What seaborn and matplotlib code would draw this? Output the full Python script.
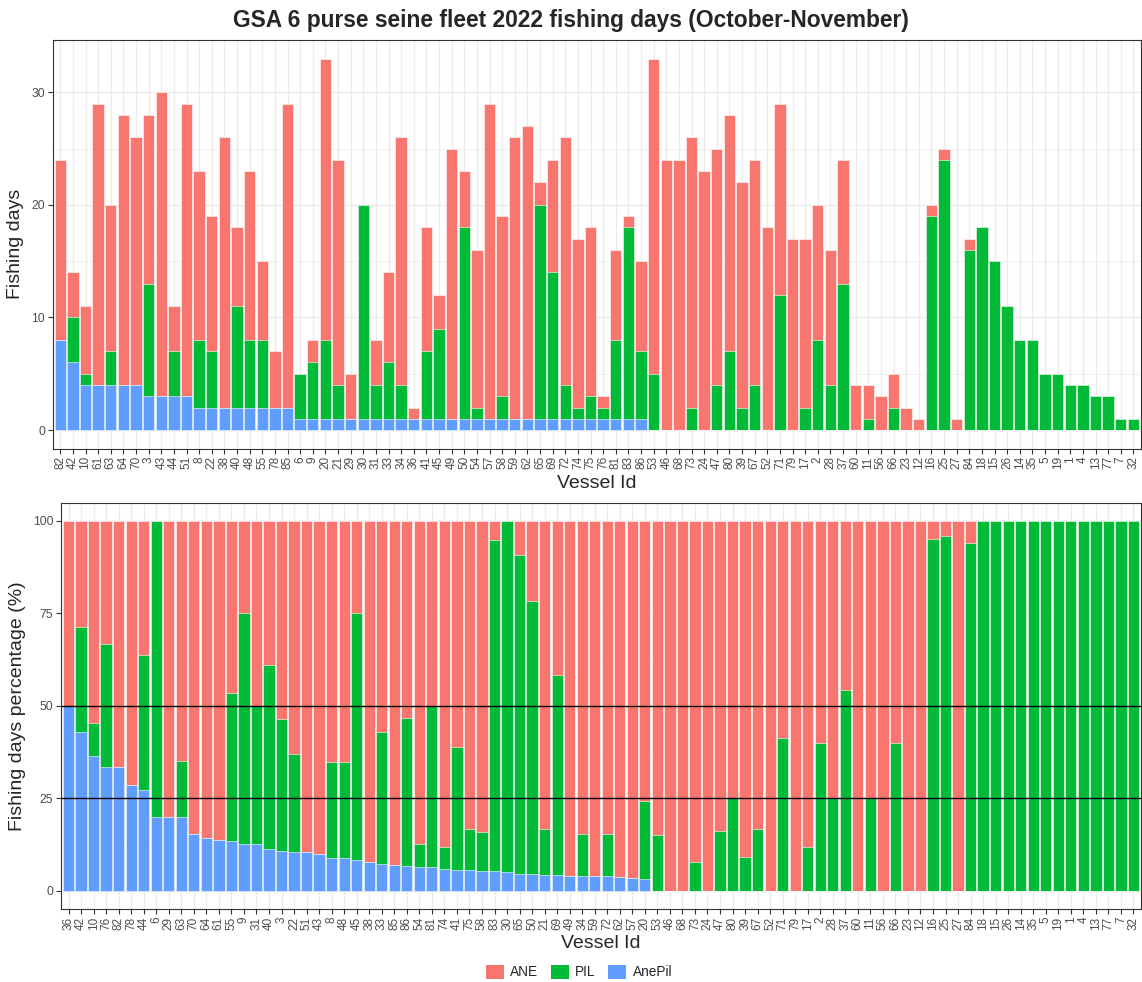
import matplotlib
matplotlib.use('Agg')
import matplotlib.pyplot as plt
from matplotlib.patches import Patch
import seaborn as sns
import pandas as pd
import numpy as np

# ---------------- data ----------------
vessels = ['82','42','10','61','63','64','70','3','43','44','51','8','22','38','40','48','55','78','85',
           '6','9','20','21','29','30','31','33','34','36','41','45','49','50','54','57','58','59','62',
           '65','69','72','74','75','76','81','83','86','53','46','68','73','24','47','80','39','67','52',
           '71','79','17','2','28','37','60','11','56','66','23','12','16','25','27','84','18','15','26',
           '14','35','5','19','1','4','13','77','7','32']

anepil = [8, 6, 4, 4, 4, 4, 4, 3, 3, 3, 3, 2, 2, 2, 2, 2, 2, 2, 2,
          1, 1, 1, 1, 1, 1, 1, 1, 1, 1, 1, 1, 1, 1, 1, 1, 1, 1, 1,
          1, 1, 1, 1, 1, 1, 1, 1, 1, 0, 0, 0, 0, 0, 0, 0, 0, 0, 0,
          0, 0, 0, 0, 0, 0, 0, 0, 0, 0, 0, 0, 0, 0, 0, 0, 0, 0, 0,
          0, 0, 0, 0, 0, 0, 0, 0, 0, 0]

pil = [0, 4, 1, 0, 3, 0, 0, 10, 0, 4, 0, 6, 5, 0, 9, 6, 6, 0, 0,
       4, 5, 7, 3, 0, 19, 3, 5, 3, 0, 6, 8, 0, 17, 1, 0, 2, 0, 0,
       19, 13, 3, 1, 2, 1, 7, 17, 6, 5, 0, 0, 2, 0, 4, 7, 2, 4, 0,
       12, 0, 2, 8, 4, 13, 0, 1, 0, 2, 0, 0, 19, 24, 0, 16, 18, 15, 11,
       8, 8, 5, 5, 4, 4, 3, 3, 1, 1]

ane = [16, 4, 6, 25, 13, 24, 22, 15, 27, 4, 26, 15, 12, 24, 7, 15, 7, 5, 27,
       0, 2, 25, 20, 4, 0, 4, 8, 22, 1, 11, 3, 24, 5, 14, 28, 16, 25, 26,
       2, 10, 22, 15, 15, 1, 8, 1, 8, 28, 24, 24, 24, 23, 21, 21, 20, 20, 18,
       17, 17, 15, 12, 12, 11, 4, 3, 3, 3, 2, 1, 1, 1, 1, 1, 0, 0, 0,
       0, 0, 0, 0, 0, 0, 0, 0, 0, 0]

pct_order = ['36','42','10','76','82','78','44','6','29','63','70','64','61','55','9','31','40','3',
             '22','51','43','8','48','45','38','33','85','86','54','81','74','41','75','58','83','30',
             '65','50','21','69','49','34','59','72','62','57','20','53','46','68','73','24','47','80',
             '39','67','52','71','79','17','2','28','37','60','11','56','66','23','12','16','25','27',
             '84','18','15','26','14','35','5','19','1','4','13','77','7','32']

species = ['ANE', 'PIL', 'AnePil']
colors = {'ANE': '#F8766D', 'PIL': '#00BA38', 'AnePil': '#619CFF'}

# ---------------- tables ----------------
df = pd.DataFrame({'vessel': vessels, 'AnePil': anepil, 'PIL': pil, 'ANE': ane})
df['total'] = df['AnePil'] + df['PIL'] + df['ANE']
df['c_blue'] = df['AnePil']
df['c_green'] = df['AnePil'] + df['PIL']
df['c_red'] = df['total']

pct = df.set_index('vessel').loc[pct_order].reset_index()
for c in ['c_blue', 'c_green', 'c_red']:
    pct['p_' + c] = pct[c] / pct['total'] * 100

# ---------------- style ----------------
sns.set_theme(style='white')
plt.rcParams['font.family'] = ['Liberation Sans', 'DejaVu Sans']

W, H = 1142, 982
fig = plt.figure(figsize=(W / 100, H / 100), dpi=100)

def frac_axes(left, top, right, bottom):
    return fig.add_axes([left / W, 1 - bottom / H, (right - left) / W, (bottom - top) / H])

ax1 = frac_axes(52.7, 40, 1141, 448.6)
ax2 = frac_axes(61, 502.5, 1141, 909)

def style_axes(ax, order, major, minor, ylim, ylabel):
    n = len(order)
    ax.set_axisbelow(True)
    ax.set_xlim(-0.6, n - 0.4)
    ax.set_ylim(*ylim)
    ax.set_yticks(major)
    ax.set_yticks(minor, minor=True)
    ax.set_xticks(range(n))
    ax.set_xticklabels(order, rotation=90, fontsize=8.5, color='#4D4D4D')
    ax.tick_params(axis='y', labelsize=8.8, labelcolor='#4D4D4D')
    ax.tick_params(axis='both', which='major', color='#333333', length=3.5, width=0.8,
                   direction='out', bottom=True, left=True, pad=2)
    ax.tick_params(axis='both', which='minor', length=0)
    ax.grid(True, which='major', color='#EBEBEB', linewidth=1.0)
    ax.grid(True, which='minor', axis='y', color='#EBEBEB', linewidth=0.5)
    for s in ax.spines.values():
        s.set_color('#333333')
        s.set_linewidth(0.8)
        s.set_visible(True)
    ax.set_xlabel('Vessel Id', fontsize=14, labelpad=4)
    ax.set_ylabel(ylabel, fontsize=14, labelpad=5)

def stacked(ax, data, cols, order):
    for col, sp in zip(cols, ['ANE', 'PIL', 'AnePil']):
        sns.barplot(data=data, x='vessel', y=col, order=order, color=colors[sp],
                    saturation=1, width=0.9, errorbar=None, edgecolor='white',
                    linewidth=0.4, ax=ax)

stacked(ax1, df, ['c_red', 'c_green', 'c_blue'], vessels)
style_axes(ax1, vessels, [0, 10, 20, 30], [5, 15, 25], (-1.65, 34.65), 'Fishing days')

stacked(ax2, pct, ['p_c_red', 'p_c_green', 'p_c_blue'], pct_order)
style_axes(ax2, pct_order, [0, 25, 50, 75, 100], [12.5, 37.5, 62.5, 87.5], (-5, 105),
           'Fishing days percentage (%)')
ax2.axhline(25, color='black', linewidth=1.0)
ax2.axhline(50, color='black', linewidth=1.0)

fig.text(0.5, 1 - 21 / H, 'GSA 6 purse seine fleet 2022 fishing days (October-November)',
         ha='center', va='center', fontsize=16.4, fontweight='bold')

handles = [Patch(facecolor=colors[s], edgecolor='none', label=s) for s in species]
fig.legend(handles=handles, loc='center', bbox_to_anchor=(579 / W, 1 - 972 / H), ncol=3,
           frameon=False, fontsize=9.8, handlelength=1.3, handleheight=1.3,
           handletextpad=0.5, columnspacing=0.9)

fig.savefig('out.png', dpi=100)
